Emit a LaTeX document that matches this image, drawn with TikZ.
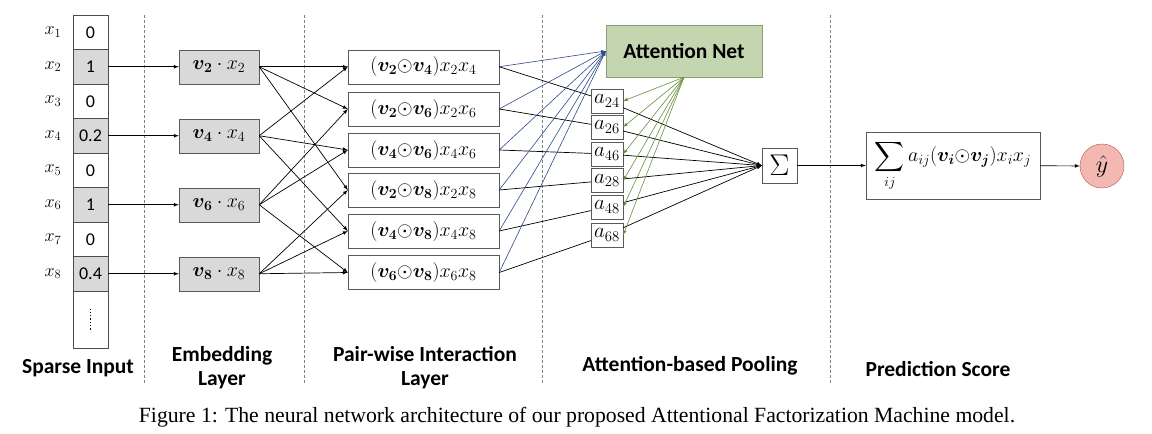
\RequirePackage{fix-cm}
\documentclass[tikz,border=0pt]{standalone}
\usepackage{amsmath,bm}
\usepackage{fontspec}
\newfontfamily\calibri{Carlito}
\newfontfamily\timesfont{Liberation Serif}
\definecolor{attgreen}{HTML}{C4D6B0}
\definecolor{attborder}{HTML}{8A9F78}
\definecolor{attblue}{HTML}{2E4A8B}
\definecolor{attarrow}{HTML}{6A8F3C}
\definecolor{outfill}{HTML}{F4B8B2}
\definecolor{outborder}{HTML}{C0504D}
\newcommand{\hp}{\mathord{\odot}}
\begin{document}
\begin{tikzpicture}[x=1pt,y=-1pt,
  font=\fontsize{20}{23}\selectfont,
  cell/.style={draw=black!70, minimum width=35pt, minimum height=34.5pt, inner sep=0pt, font=\calibri\fontsize{18}{20}\selectfont},
  embbox/.style={draw=black!65, fill=black!15, minimum width=80pt, minimum height=34pt, inner sep=0pt},
  pairbox/.style={draw=black!65, minimum width=151pt, minimum height=34pt, inner sep=0pt},
  abox/.style={draw=black!65, fill=white, minimum width=32pt, minimum height=24pt, inner sep=0pt, font=\fontsize{21}{23}\selectfont},
  layerlabel/.style={font=\calibri\bfseries\fontsize{21.5}{24}\selectfont, align=center},
  layersep/.style={densely dashed, black!50, line width=0.6pt},
  link/.style={-latex, line width=0.7pt}]
\useasboundingbox (0,0) rectangle (1152,434);

\foreach \i/\v/\f in {1/0/white,2/1/black!15,3/0/white,4/0.2/black!15,5/0/white,6/1/black!15,7/0/white,8/0.4/black!15} {
  \node[cell, fill=\f] (in\i) at (90.5,{32.25+34.5*(\i-1)}) {\v};
  \node (xl\i) at (53,{32.25+34.5*(\i-1)}) {\fontsize{18}{20}\selectfont$x_{\i}$};
}
\node[cell, minimum height=57pt] (in9) at (90.5,319.5) {};
\draw[dotted, line width=1.3pt] (in9.center) ++(0,-11) -- ++(0,22);

\node[embbox] (e2) at (219,66.75) {$\boldsymbol{v_2}\cdot x_2$};
\node[embbox] (e4) at (219,135.75) {$\boldsymbol{v_4}\cdot x_4$};
\node[embbox] (e6) at (219,204.75) {$\boldsymbol{v_6}\cdot x_6$};
\node[embbox] (e8) at (219,273.75) {$\boldsymbol{v_8}\cdot x_8$};

\node[pairbox] (p24) at (423.5,66.75) {$(\boldsymbol{v_2}\hp\boldsymbol{v_4})x_2x_4$};
\node[pairbox] (p26) at (423.5,109) {$(\boldsymbol{v_2}\hp\boldsymbol{v_6})x_2x_6$};
\node[pairbox] (p46) at (423.5,150) {$(\boldsymbol{v_4}\hp\boldsymbol{v_6})x_4x_6$};
\node[pairbox] (p28) at (423.5,190) {$(\boldsymbol{v_2}\hp\boldsymbol{v_8})x_2x_8$};
\node[pairbox] (p48) at (423.5,231) {$(\boldsymbol{v_4}\hp\boldsymbol{v_8})x_4x_8$};
\node[pairbox] (p68) at (423.5,272.5) {$(\boldsymbol{v_6}\hp\boldsymbol{v_8})x_6x_8$};

\node[draw=attborder, fill=attgreen, minimum width=156pt, minimum height=52pt, font=\calibri\bfseries\fontsize{21.5}{24}\selectfont] (att) at (684,51) {Attention Net};

\node[abox] (a24) at (607,101) {$a_{24}$};
\node[abox] (a26) at (607,127) {$a_{26}$};
\node[abox] (a46) at (607,154) {$a_{46}$};
\node[abox] (a28) at (607,180.5) {$a_{28}$};
\node[abox] (a48) at (607,207) {$a_{48}$};
\node[abox] (a68) at (607,235) {$a_{68}$};

\node[draw=black!65, minimum width=35pt, minimum height=35pt, inner sep=0pt, font=\fontsize{30}{32}\selectfont] (sum) at (779.5,165.5) {$\Sigma$};
\node[draw=black!65, minimum width=174pt, minimum height=67pt, inner sep=0pt] (pred) at (953,165.5) {$\displaystyle\sum_{ij} a_{ij}(\boldsymbol{v_i}\hp\boldsymbol{v_j})x_ix_j$};
\node[circle, draw=outborder, fill=outfill, minimum size=44pt, inner sep=0pt, font=\fontsize{24}{26}\selectfont] (yhat) at (1102,166) {$\hat{y}$};

\foreach \x in {144,304,542,830}
  \draw[layersep] (\x,15) -- (\x,383);

\draw[link] (in2) -- (e2);
\draw[link] (in4) -- (e4);
\draw[link] (in6) -- (e6);
\draw[link] (in8) -- (e8);

\foreach \s/\t in {e2/p24,e2/p26,e2/p28,e4/p24,e4/p46,e4/p48,e6/p26,e6/p46,e6/p68,e8/p28,e8/p48,e8/p68}
  \draw[link] (\s.east) -- (\t.west);

\foreach \p in {24,26,46,28,48,68} {
  \draw[-latex, attblue, line width=0.6pt] (p\p.east) -- (att.west);
  \draw[line width=0.7pt] (p\p.east) -- (a\p);
  \draw[link] (a\p) -- (sum.west);
  \draw[-latex, attarrow, line width=0.6pt] (att.south) -- (a\p.east);
}

\draw[link] (sum) -- (pred);
\draw[link] (pred) -- (yhat);

\node[layerlabel] (lbinput) at (78,368) {Sparse Input};
\node[layerlabel] (lbemb) at (222,368) {Embedding\\Layer};
\node[layerlabel] (lbpair) at (425,368) {Pair-wise Interaction\\Layer};
\node[layerlabel] (lbpool) at (690,366) {Attention-based Pooling};
\node[layerlabel] (lbpred) at (938,369) {Prediction Score};
\node[font=\timesfont\fontsize{21.7}{24}\selectfont] (caption) at (577,417) {Figure 1: The neural network architecture of our proposed Attentional Factorization Machine model.};
\end{tikzpicture}
\end{document}
